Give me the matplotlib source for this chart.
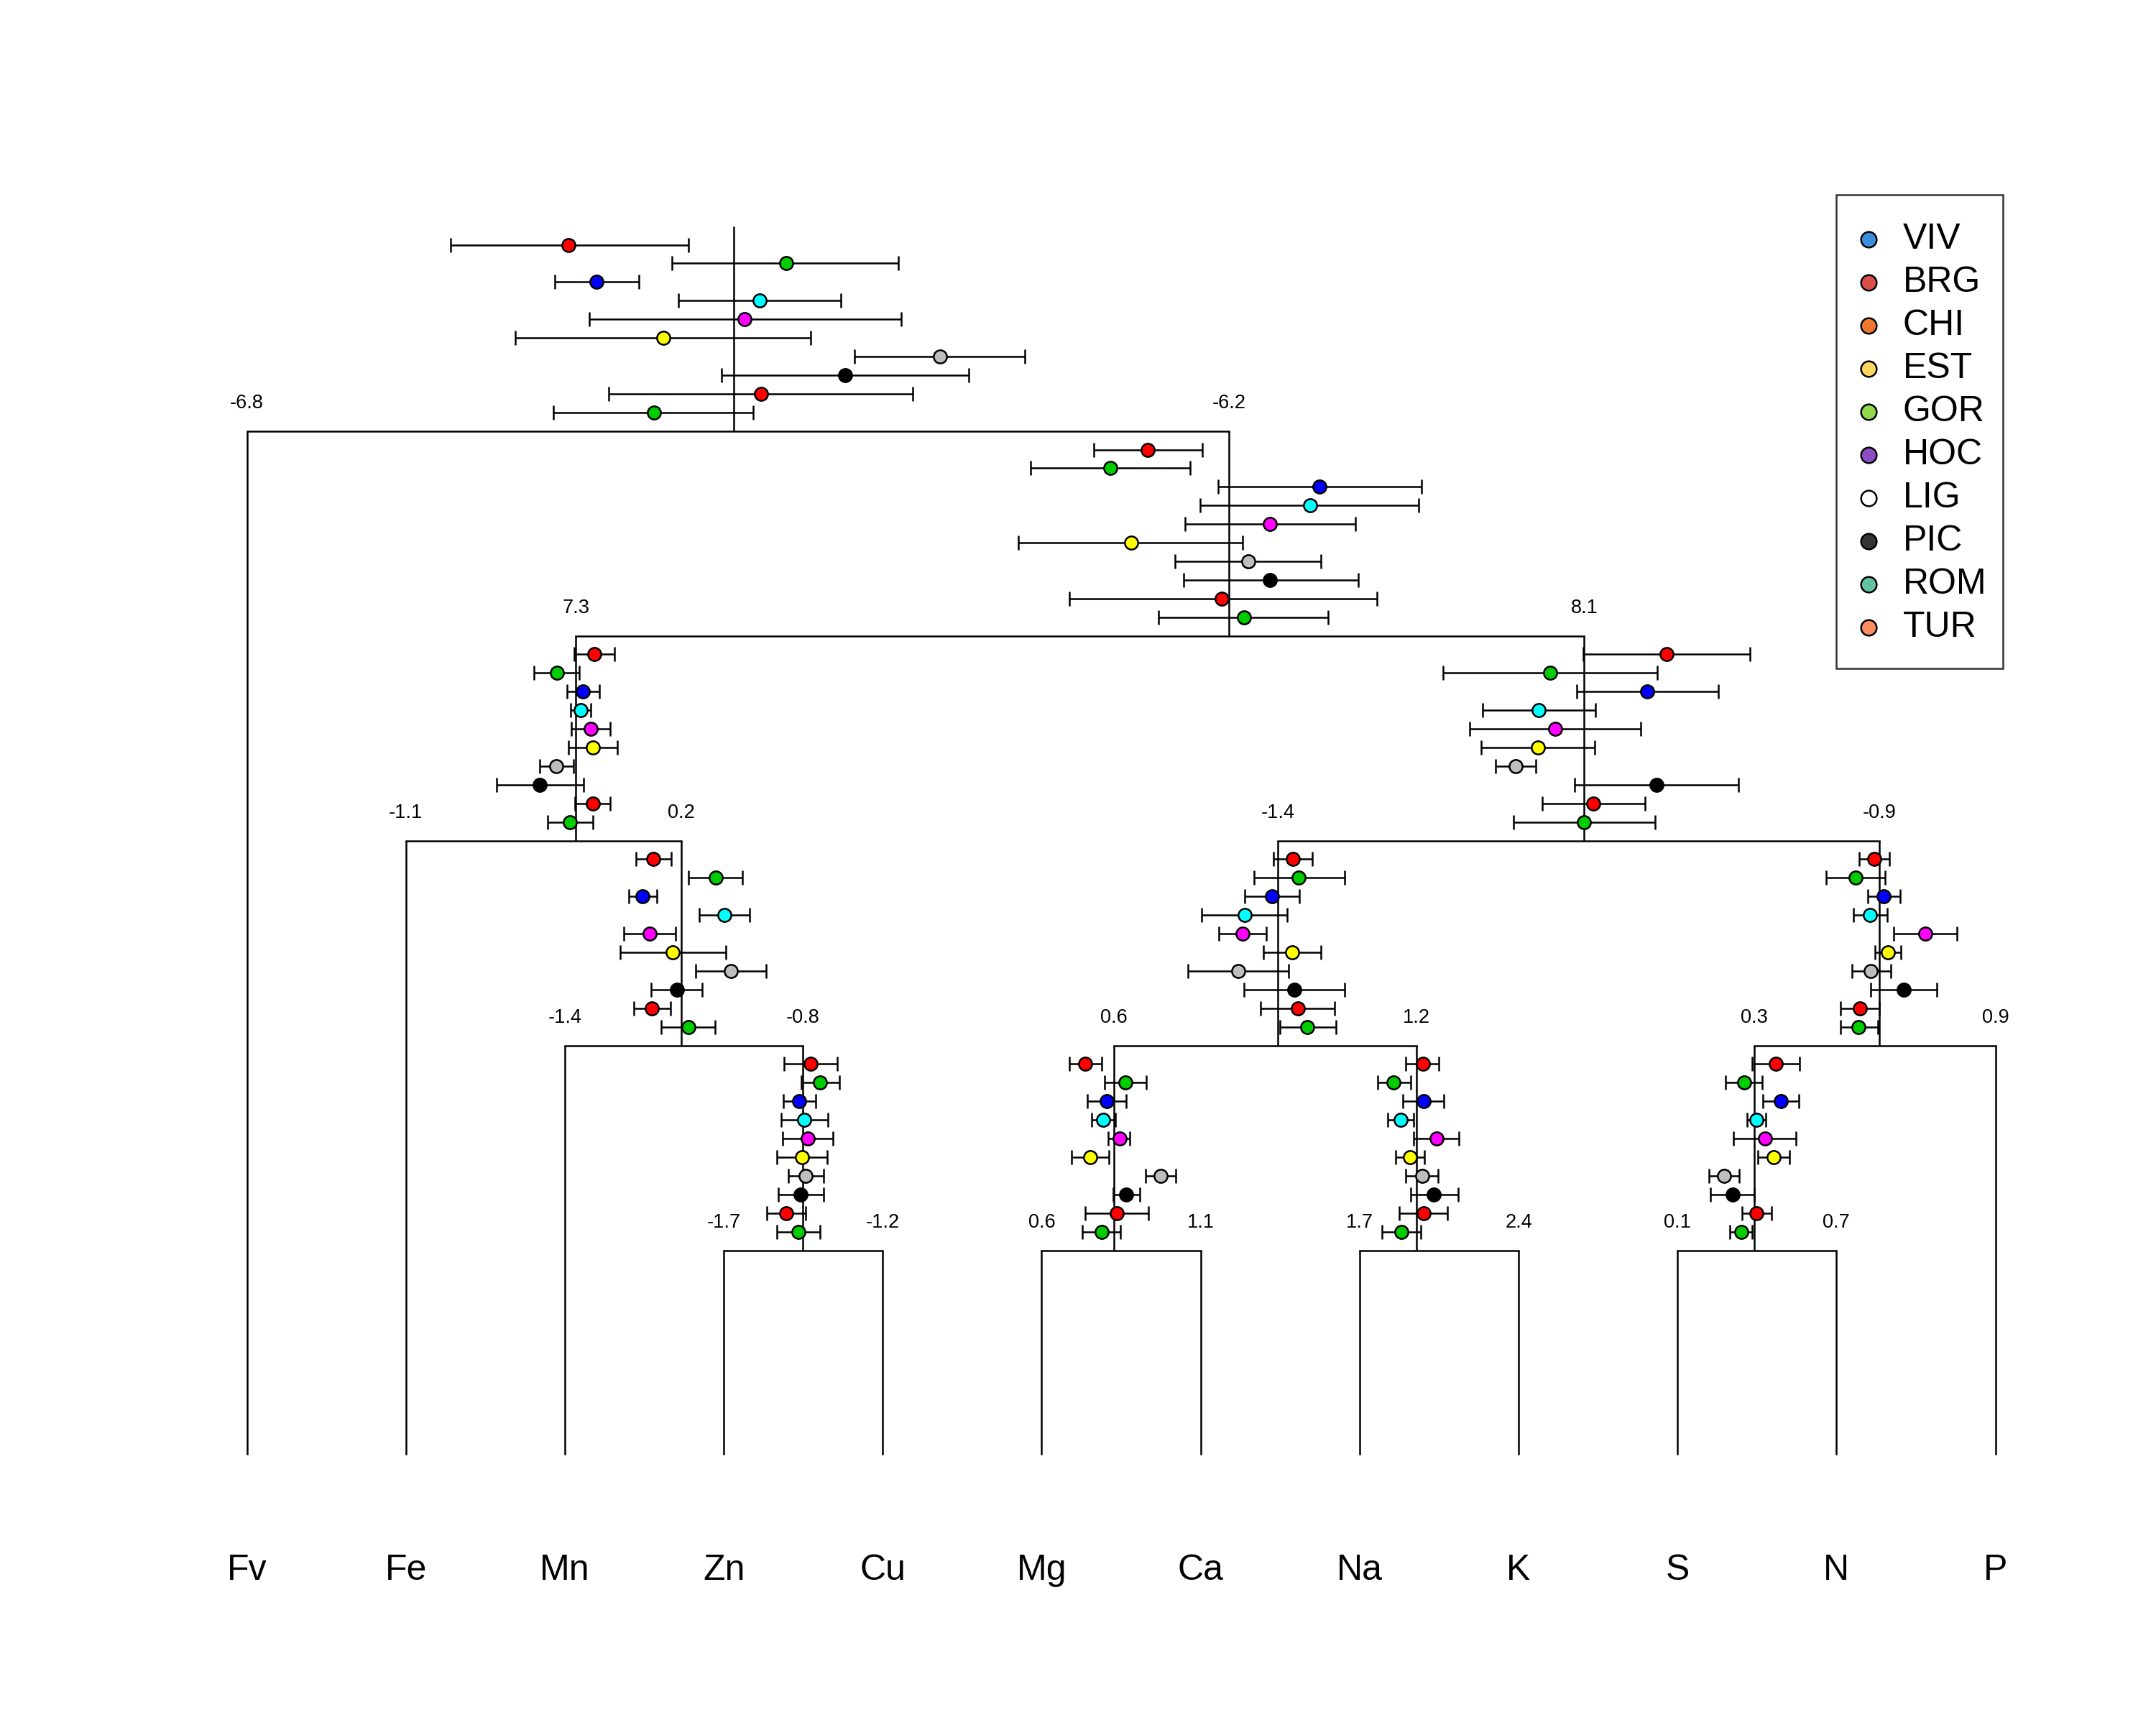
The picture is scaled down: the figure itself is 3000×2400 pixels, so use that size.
import matplotlib
matplotlib.use("Agg")
import matplotlib.pyplot as plt

plt.rcParams['font.family'] = ['Liberation Sans', 'DejaVu Sans']

# leaves of the tree, left to right
leaves = ['Fv', 'Fe', 'Mn', 'Zn', 'Cu', 'Mg', 'Ca', 'Na', 'K', 'S', 'N', 'P']

# internal nodes: children, height, position of the node's stem, end labels
nodes = ['n1', 'n2', 'n3', 'n4', 'n5', 'n6', 'n7', 'n8', 'n9', 'n10', 'n11']
node_left = ['Fv', 'n3', 'Fe', 'n6', 'Mn', 'n9', 'n11', 'Zn', 'Mg', 'Na', 'S']
node_right = ['n2', 'n4', 'n5', 'n7', 'n8', 'n10', 'P', 'Cu', 'Ca', 'K', 'N']
node_height = [5, 4, 3, 3, 2, 2, 2, 1, 1, 1, 1]
node_pos = [3.062, 6.177, 2.069, 8.413, 2.731, 6.486, 10.269, 3.498, 5.454, 7.359, 9.484]
label_left = ['-6.8', '7.3', '-1.1', '-1.4', '-1.4', '0.6', '0.3', '-1.7', '0.6', '1.7', '0.1']
label_right = ['-6.2', '8.1', '0.2', '-0.9', '-0.8', '1.2', '0.9', '-1.2', '1.1', '2.4', '0.7']

# estimates (offset from the node stem) with lower / upper limits, 10 groups per node
est = {
    'n1': [-1.20, 0.38, -1.00, 0.19, 0.08, -0.51, 1.50, 0.81, 0.20, -0.58],
    'n2': [-0.59, -0.86, 0.66, 0.59, 0.30, -0.71, 0.14, 0.30, -0.05, 0.11],
    'n3': [0.134, -0.138, 0.052, 0.037, 0.108, 0.124, -0.143, -0.261, 0.122, -0.042],
    'n4': [0.601, -0.247, 0.460, -0.329, -0.213, -0.338, -0.500, 0.526, 0.066, 0.0],
    'n5': [-0.204, 0.252, -0.278, 0.316, -0.230, -0.060, 0.360, -0.030, -0.212, 0.052],
    'n6': [0.110, 0.153, -0.044, -0.242, -0.256, 0.105, -0.289, 0.118, 0.143, 0.214],
    'n7': [-0.038, -0.172, 0.033, -0.068, 0.335, 0.061, -0.061, 0.178, -0.141, -0.150],
    'n8': [0.056, 0.125, -0.030, 0.009, 0.037, -0.007, 0.017, -0.016, -0.124, -0.035],
    'n9': [-0.207, 0.085, -0.051, -0.077, 0.040, -0.174, 0.338, 0.092, 0.019, -0.089],
    'n10': [0.044, -0.167, 0.049, -0.117, 0.143, -0.049, 0.038, 0.125, 0.051, -0.113],
    'n11': [0.155, -0.075, 0.192, 0.014, 0.075, 0.139, -0.220, -0.160, 0.012, -0.094],
}
lower = {
    'n1': [-2.06, -0.45, -1.30, -0.40, -1.05, -1.59, 0.88, -0.09, -0.91, -1.31],
    'n2': [-0.98, -1.44, -0.08, -0.21, -0.32, -1.53, -0.39, -0.33, -1.16, -0.51],
    'n3': [-0.010, -0.303, -0.066, -0.038, -0.035, -0.056, -0.265, -0.578, -0.007, -0.206],
    'n4': [-0.009, -1.028, -0.056, -0.739, -0.835, -0.749, -0.645, -0.071, -0.307, -0.516],
    'n5': [-0.328, 0.054, -0.382, 0.132, -0.414, -0.444, 0.104, -0.216, -0.344, -0.142],
    'n6': [-0.030, -0.174, -0.239, -0.554, -0.430, -0.103, -0.652, -0.249, -0.124, 0.014],
    'n7': [-0.146, -0.385, -0.084, -0.188, 0.106, -0.033, -0.200, -0.061, -0.281, -0.284],
    'n8': [-0.139, -0.012, -0.143, -0.160, -0.146, -0.192, -0.108, -0.181, -0.265, -0.192],
    'n9': [-0.322, -0.066, -0.192, -0.160, -0.040, -0.310, 0.228, -0.005, -0.211, -0.228],
    'n10': [-0.078, -0.286, -0.101, -0.211, -0.024, -0.155, -0.082, -0.045, -0.125, -0.253],
    'n11': [-0.019, -0.209, 0.064, -0.054, -0.155, 0.023, -0.328, -0.321, -0.091, -0.178],
}
upper = {
    'n1': [-0.33, 1.20, -0.69, 0.78, 1.22, 0.56, 2.12, 1.71, 1.30, 0.14],
    'n2': [-0.19, -0.28, 1.40, 1.38, 0.92, 0.10, 0.67, 0.94, 1.08, 0.72],
    'n3': [0.282, 0.023, 0.169, 0.111, 0.249, 0.303, -0.019, 0.056, 0.251, 0.122],
    'n4': [1.207, 0.533, 0.976, 0.080, 0.411, 0.075, -0.354, 1.120, 0.443, 0.516],
    'n5': [-0.070, 0.444, -0.174, 0.500, -0.042, 0.328, 0.618, 0.154, -0.074, 0.248],
    'n6': [0.251, 0.483, 0.157, 0.068, -0.084, 0.315, 0.077, 0.486, 0.411, 0.422],
    'n7': [0.073, 0.042, 0.152, 0.059, 0.564, 0.160, 0.082, 0.420, 0.003, -0.009],
    'n8': [0.247, 0.263, 0.092, 0.179, 0.220, 0.174, 0.148, 0.148, 0.017, 0.125],
    'n9': [-0.089, 0.237, 0.091, 0.010, 0.118, -0.035, 0.449, 0.190, 0.251, 0.047],
    'n10': [0.162, -0.044, 0.199, -0.021, 0.307, 0.057, 0.155, 0.300, 0.226, 0.028],
    'n11': [0.329, 0.057, 0.321, 0.084, 0.301, 0.256, -0.111, 0.000, 0.122, -0.017],
}
point_colors = ['red', '#00CD00', 'blue', 'cyan', 'magenta', 'yellow', '#BEBEBE',
                'black', 'red', '#00CD00']

groups = ['VIV', 'BRG', 'CHI', 'EST', 'GOR', 'HOC', 'LIG', 'PIC', 'ROM', 'TUR']
group_colors = ['#3B8EDE', '#DA4F49', '#F0772E', '#FBD65E', '#93D84B', '#8B4FC3',
                'white', '#333333', '#63C2A3', '#FB8C62']

SCALE = 0.865  # leaf spacing units per estimate unit
LW = 0.6


def main():
    fig = plt.figure(figsize=(10, 8), dpi=300)
    ax = fig.add_axes([0, 0, 1, 1])
    ax.set_xlim(-1.5536, 12.0104)
    ax.set_ylim(-1.3177, 7.104)
    ax.axis('off')

    xpos = {name: i for i, name in enumerate(leaves)}
    ypos = {name: 0 for name in leaves}
    for n, x, h in zip(nodes, node_pos, node_height):
        xpos[n] = x
        ypos[n] = h
    parent_h = {}
    for n, l, r, h in zip(nodes, node_left, node_right, node_height):
        parent_h[l] = h
        parent_h[r] = h
    parent_h['n1'] = 6

    # vertical branches
    for name in list(leaves) + nodes:
        ax.plot([xpos[name], xpos[name]], [ypos[name], parent_h[name]],
                color='black', lw=LW, solid_capstyle='butt', zorder=1)
    # horizontal bars and their labels
    for n, l, r, h, ll, rl in zip(nodes, node_left, node_right, node_height,
                                  label_left, label_right):
        ax.plot([xpos[l], xpos[r]], [h, h], color='black', lw=LW,
                solid_capstyle='projecting', zorder=1)
        ax.text(xpos[l], h + 0.134, ll, ha='center', va='center', fontsize=6.5)
        ax.text(xpos[r], h + 0.134, rl, ha='center', va='center', fontsize=6.5)

    # estimates with intervals along each node's stem
    for n in nodes:
        x0 = xpos[n]
        h = ypos[n]
        for k in range(10):
            y = h + (10 - k) / 11.0
            c = x0 + est[n][k] * SCALE
            lo = x0 + lower[n][k] * SCALE
            hi = x0 + upper[n][k] * SCALE
            ax.errorbar([c], [y], xerr=[[c - lo], [hi - c]], fmt='none',
                        ecolor='black', elinewidth=LW, capsize=2.4,
                        capthick=LW, zorder=2)
            ax.plot([c], [y], 'o', ms=4.4, mfc=point_colors[k], mec='black',
                    mew=0.6, zorder=3)

    # leaf names
    for name in leaves:
        ax.text(xpos[name], -0.562, name, ha='center', va='center', fontsize=12)

    handles = [ax.scatter([], [], s=27, c=c, edgecolors='black', linewidths=0.6)
               for c in group_colors]
    leg = ax.legend(handles, groups, loc='upper left',
                    bbox_to_anchor=(2555 / 3000, 1 - 271 / 2400),
                    bbox_transform=fig.transFigure, fontsize=12, frameon=True,
                    fancybox=False, edgecolor='black', borderpad=0.45,
                    handlelength=0.9, handleheight=1.9, handletextpad=0.5,
                    labelspacing=-0.28, borderaxespad=0,
                    scatterpoints=1, scatteryoffsets=[0.18])
    leg.get_frame().set_linewidth(LW)

    fig.savefig('out.png', dpi=300)


if __name__ == '__main__':
    main()
